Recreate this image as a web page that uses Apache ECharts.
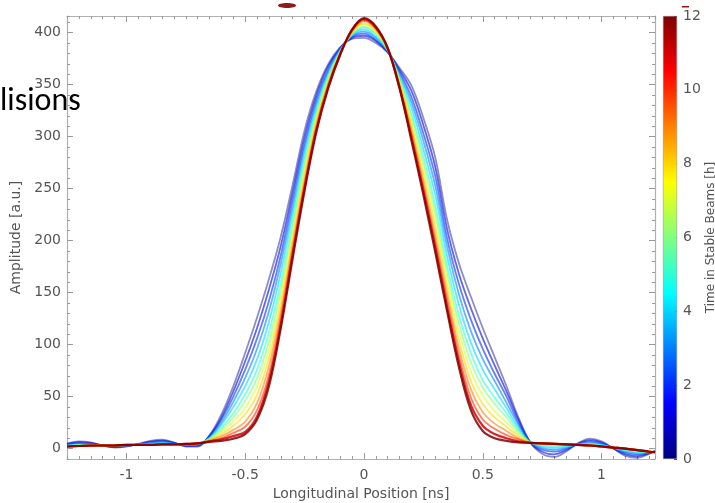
<!DOCTYPE html>
<html><head><meta charset="utf-8">
<script src="https://cdn.jsdelivr.net/npm/echarts@6/dist/echarts.min.js"></script>
<style>html,body{margin:0;padding:0;background:#fff}#c{width:715px;height:503px}</style>
</head><body><div id="c"></div>
<script>
// ---- data ----
const xs = [-1.25,-1.2,-1.15,-1.1,-1.05,-1.0,-0.95,-0.9,-0.85,-0.8,-0.75,-0.7,
  -0.65,-0.6,-0.55,-0.5,-0.45,-0.4,-0.35,-0.3,-0.25,-0.2,-0.15,-0.1,-0.05,0,
  0.05,0.1,0.15,0.2,0.25,0.3,0.35,0.4,0.45,0.5,0.55,0.6,0.65,0.7,
  0.75,0.8,0.85,0.9,0.95,1.0,1.05,1.1,1.15,1.2,1.225];
const times = [0,1,2,3,4,5,6,7,8,9,10,11,12];
const c0 = [5,7,6,3,1,2,4.5,7.5,8.5,6,2,2,
  13,33,60,92,126,163,204,254,306,344,370,386,394,395,390,381,366,349,318,280,220,178,146,116,88,60,30,6,
  -5,-8,-3,5,9.5,7,0,-7,-9,-5,-2];
const c1 = [4.4,6.1,5.4,3,1.4,2.3,4.3,6.7,7.6,5.6,2.5,2.6,
  12,30,55,84,116,153,195,247,300,340,368,385,395,397,392,381,364,344,311,271,211,168,135,106,80,55,28,6,
  -3,-5.5,-1.6,4.7,8.2,6,0.2,-5.6,-7.5,-4.6,-2.3];
const c2 = [3.8,5.2,4.8,3,1.8,2.6,4.1,5.9,6.7,5.2,3,3.2,
  12,28,50,76,106,142,186,240,294,336,365,385,396,399,393,382,362,338,303,262,202,158,124,96,72,50,25,6,
  -1,-3,-0.2,4.4,6.9,5,0.4,-4.2,-6,-4.2,-2.6];
const c3 = [3.4,4.5,4.4,3,2.1,2.8,4,5.3,6,4.9,3.4,3.7,
  11,25,45,68,96,132,178,233,289,332,363,384,397,401,395,382,360,333,296,253,194,148,113,86,65,44,23,6,
  0.5,-1.1,0.8,4.2,5.9,4.3,0.6,-3.2,-4.9,-3.9,-2.8];
const c4 = [2.9,3.9,3.9,3,2.4,3.1,3.8,4.7,5.4,4.6,3.8,4.1,
  10,23,40,60,86,122,169,226,283,328,361,383,398,403,396,383,358,328,288,244,185,138,102,76,57,39,20,6,
  2,0.8,1.9,4,5,3.5,0.7,-2.1,-3.8,-3.6,-3];
const c5 = [2.6,3.4,3.6,3,2.6,3.2,3.7,4.3,4.9,4.4,4,4.4,
  10,20,34,52,76,112,160,218,277,324,358,382,398,405,398,383,356,322,281,234,176,128,92,66,49,34,18,6,
  3,2,2.6,3.8,4.3,3,0.8,-1.4,-3,-3.4,-3.2];
const c6 = [2.3,3,3.3,3,2.8,3.4,3.6,3.9,4.5,4.2,4.3,4.7,
  9,18,30,46,68,103,153,213,272,321,357,382,399,406,399,383,354,318,275,227,169,120,83,59,43,30,16,6,
  4,3.3,3.3,3.7,3.7,2.5,0.9,-0.7,-2.3,-3.2,-3.4];
const c7 = [2.5,3,3,3.5,3.5,3.5,4,4,4,4.5,4.5,5,
  9,16,26,39,60,95,146,207,268,318,355,381,400,408,401,384,353,314,269,220,162,112,74,51,36,25,14,6,
  5,4.5,4,3.5,3,2,1,0,-1.5,-3,-3.5];
const c8 = [2,2.5,3,3,3.5,3.5,3.5,4,4,4,4.5,5,
  8,14,22,33,52,87,139,201,263,315,353,381,401,409,402,384,351,310,263,213,155,104,65,43,30,21,12,6,
  5,4.5,4,3.5,3,2,1,0,-1.5,-3,-3.5];
const c9 = [2,2.5,3,3,3,3.5,3.5,3.5,4,4,4.5,5,
  8,12,18,26,44,79,132,196,258,312,351,380,401,411,403,384,350,306,257,205,148,96,57,35,24,17,10,6,
  5.5,5,4.5,4,3.5,2.5,1.5,0.5,-1,-2.5,-3];
const c10 = [2,2.5,2.5,3,3,3,3.5,3.5,4,4,4.5,5,
  7,10,15,21,37,71,126,191,254,309,350,380,402,412,404,385,348,302,252,199,142,89,49,28,19,13,9,5.5,
  5,4.5,4,3.5,3,2,1,0,-1.5,-3,-3.5];
const c11 = [2,2.5,3,3,3,3.5,3.5,3.5,4,4,4.5,5,
  7,9,12,16,31,65,120,187,251,307,348,379,403,413,405,385,347,299,248,194,136,83,42,22,14,10,7,5.5,
  5,4.5,4,3.5,3,2,1,0,-1.5,-3,-3.5];
const c12 = [2,2.5,3,3,3,3.5,3.5,3.5,4,4,4.5,5,
  6.5,7.5,9.5,14,28,60,116,183,248,305,347,379,403,414,406,385,346,296,244,189,132,78,37,17,10,7.5,6,5.5,
  5,4.5,4,3.5,3,2,1,0,-1.5,-3,-3.5];
const curves = [c0,c1,c2,c3,c4,c5,c6,c7,c8,c9,c10,c11,c12];
const xTickLabels = [-1,-0.5,0,0.5,1];
const yTickLabels = [0,50,100,150,200,250,300,350,400];
const cbMax = [12];

// ---- styling helpers ----
function clamp(v){return Math.max(0,Math.min(1,v));}
function jet(v){
  const r=clamp(1.5-Math.abs(4*v-3)), g=clamp(1.5-Math.abs(4*v-2)), b=clamp(1.5-Math.abs(4*v-1));
  return 'rgb('+Math.round(r*255)+','+Math.round(g*255)+','+Math.round(b*255)+')';
}
const FF = 'DejaVu Sans';
const axisLineC = '#b0b0b0', tickC = '#9a9a9a', labelC = '#555';

const chart = echarts.init(document.getElementById('c'), null, {renderer:'canvas'});

const series = curves.map((c,k)=>({
  type:'line', xAxisIndex:0, yAxisIndex:0, showSymbol:false, smooth:0.35, silent:true,
  data: xs.map((x,i)=>[x,c[i]]),
  lineStyle:{color:jet(times[k]/12), width: k>=11?2.2:1.8, opacity: k>=11?0.85:(k===0?0.45:0.6)},
  z: 2+k
}));

const stops=[];
for(let i=0;i<=24;i++){stops.push({offset:i/24,color:jet(1-i/24)});}
series.push({
  type:'bar', xAxisIndex:4, yAxisIndex:4, data:cbMax, barWidth:'100%', silent:true,
  itemStyle:{color:new echarts.graphic.LinearGradient(0,0,0,1,stops), borderColor:'#888', borderWidth:0.5}
});

const fmt = v => String(v);
const noZero = (o) => Object.assign({onZero:false}, o);
const option = {
  animation:false,
  backgroundColor:'#fff',
  grid:[
    {left:67, right:60, top:16, bottom:44, containLabel:false, outerBoundsMode:'none'},
    {left:663, width:14, top:16, bottom:44, containLabel:false, outerBoundsMode:'none'}
  ],
  xAxis:[
    {type:'value', gridIndex:0, min:-1.25, max:1.225, interval:0.05, position:'bottom',
     axisLine:noZero({show:true, lineStyle:{color:axisLineC, width:1.2}}),
     axisTick:{show:true, inside:true, length:3, lineStyle:{color:tickC}},
     axisLabel:{customValues:xTickLabels, formatter:fmt, color:labelC, fontSize:14, fontFamily:FF, margin:9},
     splitLine:{show:false},
     name:'Longitudinal Position [ns]', nameLocation:'middle', nameGap:27,
     nameTextStyle:{color:labelC, fontSize:14, fontFamily:FF}},
    {type:'value', gridIndex:0, min:-1.25, max:1.225, position:'bottom', offset:0,
     axisLine:noZero({show:false}), axisTick:{show:true, inside:true, length:6, customValues:xTickLabels, lineStyle:{color:tickC}},
     axisLabel:{show:false}, splitLine:{show:false}},
    {type:'value', gridIndex:0, min:-1.25, max:1.225, interval:0.05, position:'top',
     axisLine:noZero({show:true, lineStyle:{color:axisLineC, width:1.2}}),
     axisTick:{show:true, inside:true, length:3, lineStyle:{color:tickC}},
     axisLabel:{show:false}, splitLine:{show:false}},
    {type:'value', gridIndex:0, min:-1.25, max:1.225, position:'top', offset:0,
     axisLine:noZero({show:false}), axisTick:{show:true, inside:true, length:6, customValues:xTickLabels, lineStyle:{color:tickC}},
     axisLabel:{show:false}, splitLine:{show:false}},
    {type:'category', gridIndex:1, data:['t'], show:false}
  ],
  yAxis:[
    {type:'value', gridIndex:0, min:-10, max:416, interval:10, position:'left',
     axisLine:noZero({show:true, lineStyle:{color:axisLineC, width:1.2}}),
     axisTick:{show:true, inside:true, length:3, lineStyle:{color:tickC}},
     axisLabel:{customValues:yTickLabels, formatter:fmt, color:labelC, fontSize:14, fontFamily:FF, margin:6},
     splitLine:{show:false},
     name:'Amplitude [a.u.]', nameLocation:'middle', nameGap:34, nameRotate:90,
     nameTextStyle:{color:labelC, fontSize:14, fontFamily:FF}},
    {type:'value', gridIndex:0, min:-10, max:416, position:'left', offset:0,
     axisLine:noZero({show:false}), axisTick:{show:true, inside:true, length:6, customValues:yTickLabels, lineStyle:{color:tickC}},
     axisLabel:{show:false}, splitLine:{show:false}},
    {type:'value', gridIndex:0, min:-10, max:416, interval:10, position:'right',
     axisLine:noZero({show:true, lineStyle:{color:axisLineC, width:1.2}}),
     axisTick:{show:true, inside:true, length:3, lineStyle:{color:tickC}},
     axisLabel:{show:false}, splitLine:{show:false}},
    {type:'value', gridIndex:0, min:-10, max:416, position:'right', offset:0,
     axisLine:noZero({show:false}), axisTick:{show:true, inside:true, length:6, customValues:yTickLabels, lineStyle:{color:tickC}},
     axisLabel:{show:false}, splitLine:{show:false}},
    {type:'value', gridIndex:1, min:0, max:12, interval:2, position:'right',
     axisLine:noZero({show:false}),
     axisTick:{show:true, inside:true, length:3, lineStyle:{color:'#555'}},
     axisLabel:{color:labelC, fontSize:14, fontFamily:FF, margin:6},
     splitLine:{show:false},
     name:'Time in Stable Beams [h]', nameLocation:'middle', nameGap:27, nameRotate:90,
     nameTextStyle:{color:labelC, fontSize:12, fontFamily:FF}}
  ],
  series: series,
  graphic:[
    {type:'text', left:0, top:86, z:100, silent:true,
     style:{text:'lisions', fill:'#000', font:'32px Carlito, Lato, sans-serif'}},
    {type:'ellipse', z:100, silent:true, shape:{cx:287, cy:5.5, rx:9, ry:2.5}, style:{fill:'#8b1a1a'}},
    {type:'rect', z:100, silent:true, shape:{x:682, y:6, width:7, height:1.5}, style:{fill:'#a01010'}}
  ]
};
chart.setOption(option);
</script>
</body></html>
